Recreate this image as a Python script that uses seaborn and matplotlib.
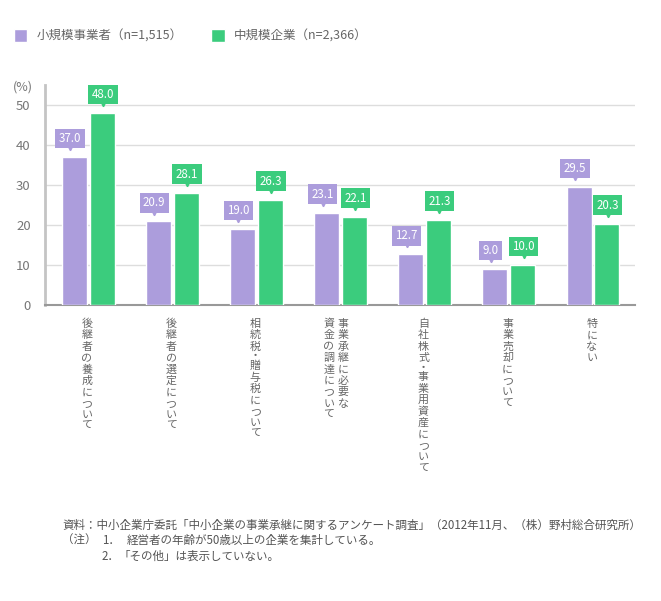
import matplotlib
matplotlib.use("Agg")
import matplotlib.pyplot as plt
import matplotlib.transforms as mtransforms
import seaborn as sns
import pandas as pd

# ---- data ----
categories = [
    ["後継者の養成について"],
    ["後継者の選定について"],
    ["相続税・贈与税について"],
    ["事業承継に必要な", "資金の調達について"],
    ["自社株式・事業用資産について"],
    ["事業売却について"],
    ["特にない"],
]
cat_keys = ["c%d" % i for i in range(len(categories))]
series_names = ["小規模事業者（n=1,515）", "中規模企業（n=2,366）"]
small_values = [37.0, 20.9, 19.0, 23.1, 12.7, 9.0, 29.5]
medium_values = [48.0, 28.1, 26.3, 22.1, 21.3, 10.0, 20.3]
y_ticks = [0, 10, 20, 30, 40, 50]
footnote_source = "資料：中小企業庁委託「中小企業の事業承継に関するアンケート調査」（2012年11月、（株）野村総合研究所）"
note_head = "（注）"
note_nums = ["1．", "2．"]
note_texts = ["経営者の年齢が50歳以上の企業を集計している。", "「その他」は表示していない。"]

PURPLE = "#AC9DDC"
GREEN = "#3BCC7D"

sns.set_theme(style="white")
plt.rcParams["font.family"] = ["Noto Sans CJK JP", "DejaVu Sans"]

df = pd.DataFrame({
    "cat": cat_keys * 2,
    "grp": [series_names[0]] * len(cat_keys) + [series_names[1]] * len(cat_keys),
    "val": small_values + medium_values,
})

fig = plt.figure(figsize=(6.61, 6.01), dpi=100)
ax = fig.add_axes([44.5 / 661, 1 - 305 / 601, (635 - 44.5) / 661, 220 / 601])

sns.barplot(data=df, x="cat", y="val", hue="grp", order=cat_keys,
            hue_order=series_names, palette=[PURPLE, GREEN],
            width=0.66, gap=0.1, saturation=1, ax=ax, errorbar=None, zorder=3)

ax.set_ylim(0, 55)
ax.set_xlim(-0.52, 6.5)
ax.set_yticks(y_ticks)
ax.set_yticklabels([str(t) for t in y_ticks], fontsize=9.5, color="#777777")
ax.tick_params(axis="y", length=0, pad=10)
ax.tick_params(axis="x", length=0)
ax.set_xticklabels([])
ax.set_xlabel("")
ax.set_ylabel("")
ax.grid(axis="y", color="#DDDDDD", linewidth=1, zorder=0)
ax.set_axisbelow(True)
for s in ["top", "right"]:
    ax.spines[s].set_visible(False)
ax.spines["left"].set_color("#C4C4C4")
ax.spines["left"].set_linewidth(2)
ax.spines["bottom"].set_color("#999999")
ax.spines["bottom"].set_linewidth(1.5)

# value callouts
for cont, color, dx in zip(ax.containers, [PURPLE, GREEN], [-0.05, 0.01]):
    for bar in cont:
        v = bar.get_height()
        x = bar.get_x() + bar.get_width() / 2 + dx
        ax.annotate(f"{v:.1f}", xy=(x, v), xytext=(0, 13.3), textcoords="offset points",
                    ha="center", va="center", fontsize=8.3, color="white", zorder=6,
                    bbox=dict(boxstyle="square,pad=0.3", fc=color, ec="none"),
                    annotation_clip=False)
        ax.plot([x], [v + 2.2], marker="v", markersize=3.2, color=color,
                zorder=5, clip_on=False, linestyle="none")

# vertical category labels: characters stacked one by one
trans = mtransforms.blended_transform_factory(ax.transData, ax.transAxes)
step = 8.2  # points per character slot
for i, cols in enumerate(categories):
    offsets = [-0.015] if len(cols) == 1 else [0.03, -0.14]
    for col, off in zip(cols, offsets):
        y = -9.5
        for ch in col:
            slot = step * (0.7 if ch == "・" else 1.0)
            ax.annotate(ch, xy=(i + off, 0), xycoords=trans,
                        xytext=(0, y - slot / 2), textcoords="offset points",
                        ha="center", va="center", fontsize=7.9, color="#666666",
                        annotation_clip=False)
            y -= slot

# (%) label
fig.text(13 / 661, 1 - 87.5 / 601, "(%)", fontsize=9, color="#777777", va="center", ha="left")

# legend
sns.move_legend(ax, "upper left", bbox_to_anchor=(14 / 661, 1 - 29 / 601),
                bbox_transform=fig.transFigure, ncol=2, frameon=False, title=None,
                fontsize=9, handlelength=1.05, handleheight=1.2, handletextpad=0.75,
                columnspacing=2.3, borderpad=0, borderaxespad=0)
for t in ax.get_legend().get_texts():
    t.set_color("#666666")

# footnotes
fs = 8.3
fc = "#555555"
fig.text(62 / 661, 1 - 525 / 601, footnote_source, fontsize=fs, color=fc, va="center")
fig.text(62 / 661, 1 - 540.5 / 601, note_head, fontsize=fs, color=fc, va="center")
fig.text(102 / 661, 1 - 540.5 / 601, note_nums[0], fontsize=fs, color=fc, va="center")
fig.text(127 / 661, 1 - 540.5 / 601, note_texts[0], fontsize=fs, color=fc, va="center")
fig.text(102 / 661, 1 - 556 / 601, note_nums[1], fontsize=fs, color=fc, va="center")
fig.text(119 / 661, 1 - 556 / 601, note_texts[1], fontsize=fs, color=fc, va="center")

fig.savefig("out.png", dpi=100)
